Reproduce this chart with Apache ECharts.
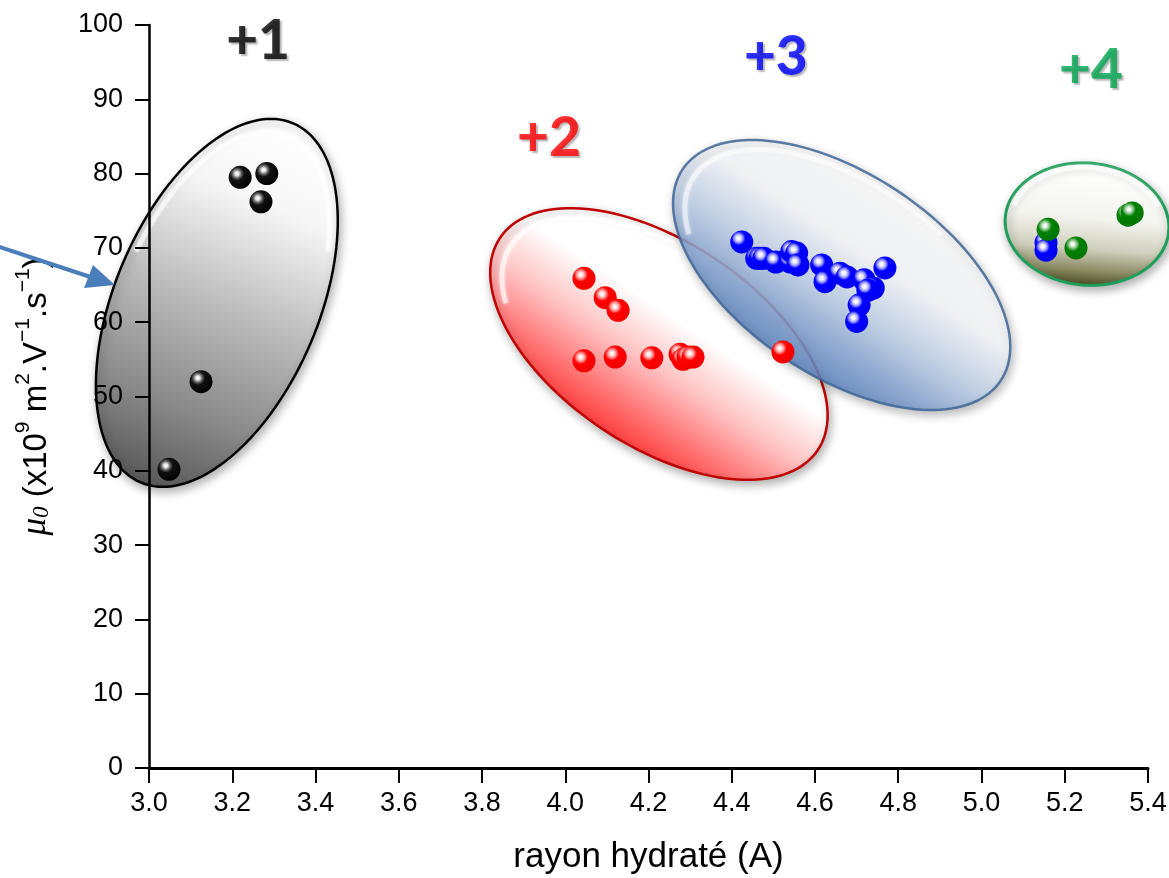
<!DOCTYPE html>
<html><head><meta charset="utf-8">
<script src="https://cdn.jsdelivr.net/npm/echarts@6/dist/echarts.min.js"></script>
<style>html,body{margin:0;padding:0;background:#fff}#c{width:1169px;height:878px}</style>
</head><body><div id="c"></div>
<script>
// ---- data ----
const seriesNames = ['+1', '+2', '+3', '+4'];
const x1 = [3.219, 3.283, 3.269, 3.125, 3.048];
const y1 = [79.5, 80.0, 76.2, 52.0, 40.2];
const x2 = [4.045, 4.096, 4.127, 4.045, 4.120, 4.208, 4.276, 4.283, 4.295, 4.307, 4.523];
const y2 = [65.9, 63.3, 61.6, 54.8, 55.3, 55.2, 55.7, 55.0, 55.3, 55.3, 56.0];
const x3 = [4.424, 4.460, 4.468, 4.477, 4.506, 4.541, 4.544, 4.556, 4.559, 4.616, 4.624, 4.660, 4.677, 4.718, 4.740, 4.727, 4.768, 4.706, 4.700, 5.155, 5.155];
const y3 = [70.8, 68.6, 68.6, 68.6, 68.1, 68.1, 69.5, 69.3, 67.7, 67.7, 65.45, 66.6, 66.1, 65.7, 64.6, 64.3, 67.3, 62.3, 60.1, 70.7, 69.7];
const x4 = [5.160, 5.227, 5.352, 5.362];
const y4 = [72.5, 70.0, 74.4, 74.7];
// group label anchors (data units)
const labelX = [3.262, 3.961, 4.506, 5.263];
const labelY = [97.8, 84.8, 95.6, 93.9];
// cluster ellipses: centre and two conjugate semi-axis vectors (data units)
const ellCx = [3.163, 4.225, 4.664, 5.2535];
const ellCy = [62.6, 57.07, 66.35, 73.2];
const ellUx = [0.1831, 0.3818, 0.3822, 0.1962];
const ellUy = [24.17, -14.27, -14.21, -0.96];
const ellVx = [0.2256, -0.136, -0.1342, -0.0128];
const ellVy = [-5.37, -11.43, -11.32, -8.18];

// ---- styles ----
const labelColors = ['#000000', '#ff0000', '#0000ff', '#00a550'];
const ballStops = [
  ['#ffffff', '#e6e6e6', '#6a6a6a', '#111111', '#000000'],
  ['#ffffff', '#ffe6e6', '#ff8a8a', '#ff0000', '#f00000'],
  ['#ffffff', '#eeeeff', '#9a9aff', '#0000ff', '#0000ee'],
  ['#ffffff', '#e6f2e6', '#7fbf7f', '#008000', '#007400']
];
const ellStyles = [
  {stroke: '#000000', lw: 2.5, opacity: 1, useU: true,
   stops: [[0, '#ffffff'], [0.22, '#f6f6f6'], [0.5, '#bdbdbd'], [0.78, '#8a8a8a'], [1, '#585858']]},
  {stroke: '#c00000', lw: 2.5, opacity: 1, useU: false,
   stops: [[0, '#ffffff'], [0.35, '#ffffff'], [0.6, '#ffc4c4'], [0.85, '#ff7070'], [1, '#ff4040']]},
  {stroke: '#3d6596', lw: 2.5, opacity: 0.85, useU: false,
   stops: [[0, '#ffffff'], [0.35, '#f8fafd'], [0.6, '#c3d3ea'], [0.85, '#7f9fd0'], [1, '#5b84c0']]},
  {stroke: '#1f9e5a', lw: 3, opacity: 1, useU: false,
   stops: [[0, '#ffffff'], [0.45, '#f4f4ef'], [0.7, '#cfcfbd'], [0.88, '#8a8a62'], [1, '#4e4e26']]}
];

function ballColor(i) {
  const c = ballStops[i];
  return {type: 'radial', x: 0.36, y: 0.34, r: 0.72, colorStops: [
    {offset: 0, color: c[0]}, {offset: 0.12, color: c[1]}, {offset: 0.26, color: c[2]},
    {offset: 0.42, color: c[3]}, {offset: 1, color: c[4]}]};
}

function renderEllipse(params, api) {
  const i = params.dataIndex;
  const st = ellStyles[i];
  const N = 144;
  const pts = [];
  const cpx = api.coord([ellCx[i], ellCy[i]]);
  for (let k = 0; k < N; k++) {
    const t = 2 * Math.PI * k / N;
    const c = Math.cos(t), s = Math.sin(t);
    pts.push(api.coord([ellCx[i] + ellUx[i] * c + ellVx[i] * s, ellCy[i] + ellUy[i] * c + ellVy[i] * s]));
  }
  let minY = Infinity, maxY = -Infinity;
  pts.forEach(p => { minY = Math.min(minY, p[1]); maxY = Math.max(maxY, p[1]); });
  const H = (maxY - minY) / 2;
  const arc = [];
  for (let k = 0; k <= N; k++) {
    const p = pts[k % N];
    const q = [cpx[0] + (p[0] - cpx[0]) * 0.93, cpx[1] + (p[1] - cpx[1]) * 0.93];
    arc.push({q, up: (cpx[1] - p[1]) / H});
  }
  let best = [], cur = [];
  for (let r = 0; r < 2; r++) {
    for (let k = 0; k <= N; k++) {
      const a = arc[k];
      if (a.up > 0.3) { cur.push(a.q); } else { if (cur.length > best.length) best = cur; cur = []; }
    }
  }
  if (cur.length > best.length) best = cur;
  if (best.length > N) best = best.slice(0, N);

  const gx = st.useU ? -ellUx[i] : ellVx[i];
  const gy = st.useU ? -ellUy[i] : ellVy[i];
  const p0 = api.coord([ellCx[i] - gx, ellCy[i] - gy]);
  const p1 = api.coord([ellCx[i] + gx, ellCy[i] + gy]);
  return {
    type: 'group',
    children: [
      {type: 'polygon', shape: {points: pts},
       style: {fill: {type: 'linear', x: p0[0], y: p0[1], x2: p1[0], y2: p1[1], global: true,
               colorStops: st.stops.map(s => ({offset: s[0], color: s[1]}))},
               stroke: st.stroke, lineWidth: st.lw, opacity: st.opacity,
               shadowBlur: 10, shadowColor: 'rgba(0,0,0,0.3)', shadowOffsetX: 2, shadowOffsetY: 4}},
      {type: 'polyline', shape: {points: best, smooth: 0.3},
       style: {stroke: 'rgba(255,255,255,0.6)', lineWidth: 5, fill: null, opacity: st.opacity,
               shadowBlur: 4, shadowColor: 'rgba(255,255,255,0.9)'}}
    ]
  };
}

const xs = [x1, x2, x3, x4], ys = [y1, y2, y3, y4];
const scatterSeries = seriesNames.map((n, i) => ({
  name: n, type: 'scatter', symbol: 'circle', symbolSize: 23, z: 5,
  itemStyle: {color: ballColor(i), opacity: 1},
  data: xs[i].map((v, k) => [v, ys[i][k]])
}));

const chart = echarts.init(document.getElementById('c'));
chart.setOption({
  animation: false,
  backgroundColor: '#ffffff',
  grid: {left: 149, right: 21, top: 25, bottom: 110, outerBoundsMode: 'none', containLabel: false},
  xAxis: {
    type: 'value', min: 3.0, max: 5.4, interval: 0.2, z: 3,
    name: 'rayon hydraté (A)', nameLocation: 'middle', nameGap: 72,
    nameTextStyle: {fontFamily: 'Liberation Sans', fontSize: 35, color: '#000'},
    axisLine: {show: true, onZero: false, lineStyle: {color: '#000', width: 3}},
    axisTick: {show: true, inside: false, length: 15, lineStyle: {color: '#000', width: 2}},
    axisLabel: {fontFamily: 'Liberation Sans', fontSize: 27, color: '#000', margin: 22,
                formatter: v => v.toFixed(1)},
    splitLine: {show: false}
  },
  yAxis: {
    type: 'value', min: 0, max: 100, interval: 10, z: 3,
    name: '{mu|μ}{sub|0}{t| (x10}{sup|9}{t| m}{sup|2}{t|.V}{sup|−1}{t|.s}{sup|−1}{t|)}',
    nameLocation: 'middle', nameRotate: 90, nameGap: 96,
    nameTextStyle: {
      fontFamily: 'Liberation Sans', fontSize: 33, color: '#000',
      rich: {
        t: {fontFamily: 'Liberation Sans', fontSize: 33, color: '#000', lineHeight: 40, verticalAlign: 'bottom'},
        mu: {fontFamily: 'Liberation Serif', fontStyle: 'italic', fontSize: 35, color: '#000', lineHeight: 40, verticalAlign: 'bottom'},
        sub: {fontFamily: 'Liberation Serif', fontStyle: 'italic', fontSize: 23, color: '#000', lineHeight: 34, verticalAlign: 'bottom'},
        sup: {fontFamily: 'Liberation Sans', fontSize: 21, color: '#000', lineHeight: 24, verticalAlign: 'top'}
      }
    },
    axisLine: {show: true, onZero: false, lineStyle: {color: '#000', width: 2.5}},
    axisTick: {show: true, inside: false, length: 14, lineStyle: {color: '#000', width: 2}},
    axisLabel: {fontFamily: 'Liberation Sans', fontSize: 27, color: '#000', margin: 26},
    splitLine: {show: false}
  },
  series: [
    {type: 'custom', renderItem: renderEllipse, clip: false, silent: true, z: 1,
     data: ellCx.map((v, i) => [v, ellCy[i]])},
    ...scatterSeries,
    {type: 'scatter', symbolSize: 1, z: 6, silent: true,
     itemStyle: {color: 'rgba(0,0,0,0)'},
     data: labelX.map((v, i) => ({
       value: [v, labelY[i]],
       label: {show: true, position: 'inside', formatter: seriesNames[i],
               fontFamily: 'Lato', fontWeight: 900, fontSize: 55, color: labelColors[i],
               textBorderWidth: 0,
               textShadowColor: 'rgba(0,0,0,0.35)', textShadowBlur: 1.5, textShadowOffsetX: 2, textShadowOffsetY: 2}
     }))}
  ],
  graphic: [
    {type: 'line', z: 100, shape: {x1: -5, y1: 245.5, x2: 92, y2: 277.5},
     style: {stroke: '#4a7ebb', lineWidth: 4}},
    {type: 'polygon', z: 100, shape: {points: [[115, 285], [84, 288], [93, 265]]},
     style: {fill: '#4a7ebb'}}
  ]
});
</script></body></html>
